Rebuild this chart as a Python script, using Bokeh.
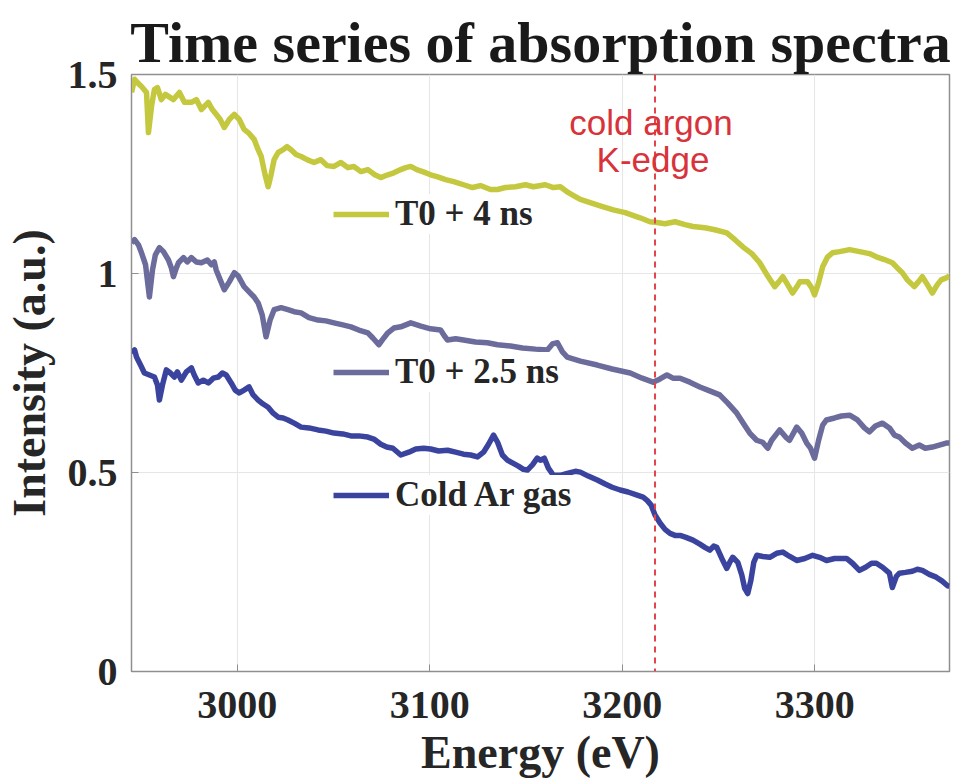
from bokeh.plotting import figure
from bokeh.models import Span, Label, Legend, LegendItem, FixedTicker, Range1d
from bokeh.embed import file_html
from bokeh.resources import INLINE

# --- spectra (energy in eV, intensity in arbitrary units) ---
t4_energy = [2945.0, 2946.6, 2948.6, 2950.2, 2952.8, 2953.8, 2955.4, 2956.9, 2958.5, 2960.5,
             2962.6, 2964.2, 2966.8, 2969.9, 2972.5, 2976.1, 2978.7, 2981.3, 2984.9, 2987.0,
             2989.0, 2991.1, 2993.2, 2995.8, 2998.4, 3001.0, 3003.5, 3006.1, 3008.7, 3010.8,
             3012.4, 3014.4, 3016.0, 3017.5, 3019.1, 3021.2, 3023.8, 3025.8, 3027.9, 3030.5,
             3033.1, 3036.2, 3039.8, 3043.4, 3046.6, 3050.2, 3053.8, 3057.4, 3060.5, 3064.2,
             3067.8, 3071.4, 3074.5, 3078.2, 3081.3, 3084.9, 3087.5, 3090.1, 3093.2, 3096.3,
             3100.4, 3104.1, 3108.2, 3112.4, 3117.5, 3122.2, 3126.3, 3131.5, 3135.2, 3139.3,
             3144.5, 3149.7, 3153.8, 3160.0, 3164.2, 3167.8, 3172.0, 3175.6, 3178.2, 3183.3,
             3188.5, 3195.3, 3201.5, 3209.2, 3214.4, 3218.1, 3222.2, 3227.4, 3232.6, 3236.7,
             3242.9, 3248.1, 3254.3, 3258.5, 3262.6, 3267.3, 3271.4, 3275.1, 3279.2, 3281.3,
             3283.4, 3285.9, 3288.5, 3290.6, 3292.2, 3296.3, 3298.4, 3299.9, 3302.0, 3304.1,
             3306.7, 3309.2, 3312.9, 3318.1, 3323.3, 3328.4, 3332.0, 3336.2, 3340.3, 3342.9,
             3345.5, 3348.1, 3351.7, 3353.8, 3355.9, 3358.5, 3361.1, 3363.7, 3365.7, 3368.3,
             3370.0]
t4_intensity = [1.455, 1.488, 1.477, 1.470, 1.455, 1.354, 1.420, 1.462, 1.467, 1.437,
                1.450, 1.445, 1.437, 1.455, 1.430, 1.430, 1.437, 1.412, 1.430, 1.412,
                1.400, 1.387, 1.367, 1.387, 1.400, 1.387, 1.362, 1.352, 1.337, 1.311,
                1.294, 1.248, 1.218, 1.248, 1.286, 1.304, 1.311, 1.319, 1.311, 1.299,
                1.294, 1.286, 1.279, 1.286, 1.271, 1.269, 1.279, 1.266, 1.269, 1.256,
                1.261, 1.248, 1.241, 1.248, 1.253, 1.261, 1.266, 1.269, 1.261, 1.256,
                1.248, 1.243, 1.236, 1.231, 1.223, 1.216, 1.221, 1.211, 1.211, 1.216,
                1.218, 1.223, 1.218, 1.223, 1.216, 1.218, 1.203, 1.193, 1.186, 1.178,
                1.170, 1.160, 1.153, 1.140, 1.130, 1.128, 1.125, 1.130, 1.123, 1.118,
                1.115, 1.110, 1.102, 1.085, 1.067, 1.050, 1.027, 0.997, 0.967, 0.979,
                0.992, 0.972, 0.951, 0.966, 0.979, 0.979, 0.964, 0.946, 0.977, 1.017,
                1.042, 1.052, 1.055, 1.060, 1.055, 1.050, 1.042, 1.035, 1.027, 1.014,
                1.002, 0.984, 0.967, 0.979, 0.992, 0.972, 0.951, 0.972, 0.984, 0.989,
                0.994]

t25_energy = [2945.0, 2946.6, 2948.6, 2950.2, 2952.3, 2954.3, 2955.9, 2957.4, 2959.5, 2961.6,
              2964.2, 2965.7, 2966.8, 2968.3, 2969.4, 2972.0, 2974.0, 2976.1, 2978.7, 2981.3,
              2984.4, 2986.5, 2988.0, 2989.0, 2991.1, 2993.2, 2995.8, 2998.4, 3000.4, 3003.5,
              3006.1, 3008.7, 3010.8, 3012.9, 3014.9, 3017.0, 3019.1, 3022.7, 3026.3, 3029.5,
              3033.1, 3037.2, 3041.9, 3046.0, 3050.2, 3054.8, 3059.0, 3063.1, 3067.8, 3070.4,
              3073.5, 3076.1, 3078.2, 3081.3, 3084.9, 3090.1, 3095.3, 3100.4, 3105.6, 3107.6,
              3109.2, 3113.4, 3117.5, 3123.7, 3129.9, 3135.2, 3141.9, 3148.1, 3154.9, 3161.1,
              3163.7, 3166.3, 3168.9, 3171.4, 3178.2, 3187.0, 3194.7, 3204.1, 3210.3, 3216.0,
              3219.6, 3223.2, 3226.3, 3230.0, 3235.1, 3240.3, 3245.4, 3250.6, 3254.7, 3259.5,
              3263.1, 3266.2, 3269.8, 3272.9, 3275.6, 3277.6, 3281.8, 3284.9, 3286.9, 3290.6,
              3293.2, 3295.8, 3297.8, 3299.9, 3302.0, 3304.1, 3306.1, 3310.3, 3313.9, 3318.1,
              3322.2, 3325.8, 3328.4, 3331.5, 3335.1, 3338.8, 3341.4, 3344.0, 3347.1, 3350.7,
              3354.3, 3357.4, 3361.1, 3364.7, 3368.3, 3370.0]
t25_intensity = [1.077, 1.085, 1.072, 1.052, 1.022, 0.941, 1.009, 1.047, 1.065, 1.055,
                 1.034, 1.014, 0.992, 1.014, 1.027, 1.040, 1.029, 1.040, 1.029, 1.027,
                 1.034, 1.022, 1.029, 1.009, 0.984, 0.959, 0.979, 1.002, 0.994, 0.967,
                 0.954, 0.941, 0.926, 0.896, 0.841, 0.883, 0.909, 0.914, 0.909, 0.904,
                 0.901, 0.889, 0.883, 0.881, 0.876, 0.871, 0.866, 0.858, 0.851, 0.838,
                 0.821, 0.838, 0.851, 0.863, 0.866, 0.876, 0.868, 0.861, 0.858, 0.843,
                 0.833, 0.836, 0.833, 0.828, 0.826, 0.821, 0.818, 0.813, 0.810, 0.808,
                 0.823, 0.826, 0.803, 0.790, 0.780, 0.770, 0.760, 0.750, 0.737, 0.727,
                 0.735, 0.745, 0.737, 0.737, 0.727, 0.715, 0.705, 0.695, 0.675, 0.649,
                 0.622, 0.599, 0.581, 0.576, 0.561, 0.581, 0.607, 0.589, 0.581, 0.614,
                 0.599, 0.574, 0.561, 0.536, 0.581, 0.619, 0.632, 0.637, 0.642, 0.644,
                 0.632, 0.612, 0.602, 0.617, 0.624, 0.612, 0.594, 0.589, 0.574, 0.561,
                 0.569, 0.561, 0.564, 0.569, 0.574, 0.574]

cold_energy = [2945.0, 2946.6, 2947.6, 2949.7, 2951.7, 2954.3, 2956.9, 2958.5, 2959.5, 2961.1,
               2963.1, 2965.2, 2967.3, 2968.8, 2970.9, 2973.5, 2976.1, 2977.6, 2979.7, 2982.3,
               2984.9, 2987.5, 2990.1, 2992.2, 2994.2, 2996.8, 2998.9, 3001.0, 3003.5, 3006.1,
               3008.2, 3010.8, 3013.4, 3016.0, 3018.6, 3021.2, 3023.8, 3026.3, 3029.5, 3033.1,
               3037.2, 3041.9, 3046.0, 3050.2, 3054.8, 3059.0, 3063.1, 3067.8, 3070.9, 3074.5,
               3077.6, 3080.8, 3084.9, 3089.1, 3092.7, 3096.8, 3100.4, 3104.6, 3109.2, 3113.4,
               3117.5, 3121.2, 3124.8, 3127.9, 3130.5, 3133.1, 3135.2, 3137.7, 3140.3, 3142.9,
               3146.0, 3148.6, 3150.7, 3153.3, 3155.8, 3157.4, 3159.5, 3161.6, 3164.2, 3167.8,
               3171.4, 3175.6, 3178.2, 3182.3, 3187.0, 3191.1, 3194.7, 3198.9, 3203.0, 3207.7,
               3210.8, 3212.9, 3215.0, 3217.0, 3219.6, 3222.2, 3224.8, 3227.4, 3230.0, 3233.1,
               3236.7, 3240.3, 3242.9, 3245.5, 3247.5, 3249.1, 3251.7, 3254.3, 3255.8, 3257.4,
               3260.0, 3262.1, 3263.6, 3265.2, 3266.8, 3268.3, 3269.9, 3273.0, 3276.6, 3280.2,
               3283.4, 3287.0, 3290.6, 3294.8, 3298.9, 3302.5, 3306.1, 3310.3, 3313.4, 3316.5,
               3319.6, 3323.2, 3326.4, 3329.5, 3332.0, 3335.2, 3338.8, 3340.3, 3342.4, 3344.0,
               3347.1, 3350.7, 3353.3, 3355.9, 3359.5, 3363.1, 3366.2, 3368.8, 3370.0]
cold_intensity = [0.800, 0.808, 0.790, 0.770, 0.750, 0.745, 0.740, 0.720, 0.682, 0.720,
                  0.758, 0.750, 0.740, 0.753, 0.732, 0.753, 0.763, 0.745, 0.725, 0.732,
                  0.725, 0.737, 0.740, 0.750, 0.745, 0.725, 0.707, 0.700, 0.707, 0.715,
                  0.695, 0.682, 0.672, 0.664, 0.649, 0.639, 0.637, 0.632, 0.624, 0.614,
                  0.612, 0.607, 0.604, 0.599, 0.597, 0.592, 0.592, 0.589, 0.584, 0.571,
                  0.564, 0.561, 0.544, 0.551, 0.559, 0.561, 0.559, 0.554, 0.556, 0.551,
                  0.546, 0.544, 0.539, 0.551, 0.571, 0.594, 0.576, 0.544, 0.531, 0.524,
                  0.516, 0.508, 0.506, 0.519, 0.536, 0.531, 0.536, 0.511, 0.493, 0.493,
                  0.498, 0.503, 0.501, 0.491, 0.481, 0.471, 0.463, 0.456, 0.451, 0.443,
                  0.438, 0.430, 0.418, 0.393, 0.373, 0.357, 0.347, 0.342, 0.342, 0.337,
                  0.330, 0.320, 0.312, 0.305, 0.315, 0.312, 0.284, 0.259, 0.274, 0.287,
                  0.274, 0.242, 0.209, 0.196, 0.229, 0.274, 0.292, 0.289, 0.287, 0.297,
                  0.300, 0.289, 0.279, 0.284, 0.292, 0.287, 0.279, 0.284, 0.284, 0.284,
                  0.272, 0.254, 0.262, 0.272, 0.272, 0.262, 0.247, 0.211, 0.239, 0.247,
                  0.249, 0.252, 0.257, 0.254, 0.244, 0.237, 0.227, 0.216, 0.214]

series_labels = ["T0 + 4 ns", "T0 + 2.5 ns", "Cold Ar gas"]
series_colors = ["#c4c83e", "#6c6c9c", "#3a449e"]

k_edge_energy = 3217.0
edge_label_lines = ["cold argon", "K-edge"]

x_ticks = [3000, 3100, 3200, 3300]
y_ticks = [0, 0.5, 1, 1.5]
y_tick_labels = {0: "0", 0.5: "0.5", 1: "1", 1.5: "1.5"}

SERIF = "Liberation Serif"
SANS = "Liberation Sans"
TEXT = "#262626"
FRAME = "#8f8f8f"

p = figure(width=959, height=783, output_backend="svg", toolbar_location=None,
           x_range=Range1d(2945, 3370), y_range=Range1d(0, 1.5))
p.min_border_left = 130
p.min_border_right = 10
p.min_border_top = 74
p.min_border_bottom = 112
p.background_fill_color = "white"
p.border_fill_color = "white"
p.outline_line_color = FRAME
p.outline_line_width = 1.5

# title
p.title.text = "Time series of absorption spectra"
p.title.text_font = SERIF
p.title.text_font_style = "bold"
p.title.text_font_size = "58px"
p.title.text_color = "#1a1a1a"
p.title.align = "center"
p.title.standoff = 0

# axes
for ax in (p.xaxis[0], p.yaxis[0]):
    ax.axis_line_color = FRAME
    ax.major_tick_line_color = FRAME
    ax.major_tick_in = 7
    ax.major_tick_out = 0
    ax.minor_tick_line_color = None
    ax.major_label_text_font = SERIF
    ax.major_label_text_font_style = "bold"
    ax.major_label_text_font_size = "40px"
    ax.major_label_text_color = TEXT
    ax.axis_label_text_font = SERIF
    ax.axis_label_text_font_style = "bold"
    ax.axis_label_text_font_size = "46px"
    ax.axis_label_text_color = TEXT

p.xaxis.ticker = FixedTicker(ticks=x_ticks)
p.yaxis.ticker = FixedTicker(ticks=y_ticks)
p.yaxis.major_label_overrides = y_tick_labels
p.xaxis.axis_label = "Energy (eV)"
p.yaxis.axis_label = "Intensity (a.u.)"
p.xaxis.major_label_standoff = 20
p.xaxis.axis_label_standoff = 6
p.yaxis.major_label_standoff = 14
p.yaxis.axis_label_standoff = 10

p.xgrid.grid_line_color = "#e6e6e6"
p.ygrid.grid_line_color = "#e6e6e6"
p.xgrid.grid_line_width = 1
p.ygrid.grid_line_width = 1

# K-edge marker
p.add_layout(Span(location=k_edge_energy, dimension="height", line_color="#e0464b",
                  line_width=2, line_dash="6 5"))
p.add_layout(Label(x=k_edge_energy, y=1.379, text=edge_label_lines[0], x_offset=-4,
                   text_align="center", text_baseline="middle", text_font=SANS,
                   text_font_size="35px", text_color="#d8333b"))
p.add_layout(Label(x=k_edge_energy, y=1.286, text=edge_label_lines[1], x_offset=-2,
                   text_align="center", text_baseline="middle", text_font=SANS,
                   text_font_size="35px", text_color="#d8333b"))

series = [(t4_energy, t4_intensity), (t25_energy, t25_intensity), (cold_energy, cold_intensity)]
renderers = []
for (xs, ys), color in zip(series, series_colors):
    renderers.append(p.line(xs, ys, line_color=color, line_width=5.5, line_join="round"))

# one small legend next to each curve
legend_spots = [(202, 437), (202, 279), (202, 156)]
for r, label, spot in zip(renderers, series_labels, legend_spots):
    lg = Legend(items=[LegendItem(label=label, renderers=[r])], location=spot,
                glyph_width=56, glyph_height=36, label_standoff=6, padding=0, margin=0,
                spacing=0, border_line_alpha=0, background_fill_color="white",
                background_fill_alpha=1.0, label_text_font=SERIF,
                label_text_font_style="bold", label_text_font_size="35px",
                label_text_color=TEXT, label_height=36)
    p.add_layout(lg)

open("out.html", "w").write(file_html(p, INLINE))
